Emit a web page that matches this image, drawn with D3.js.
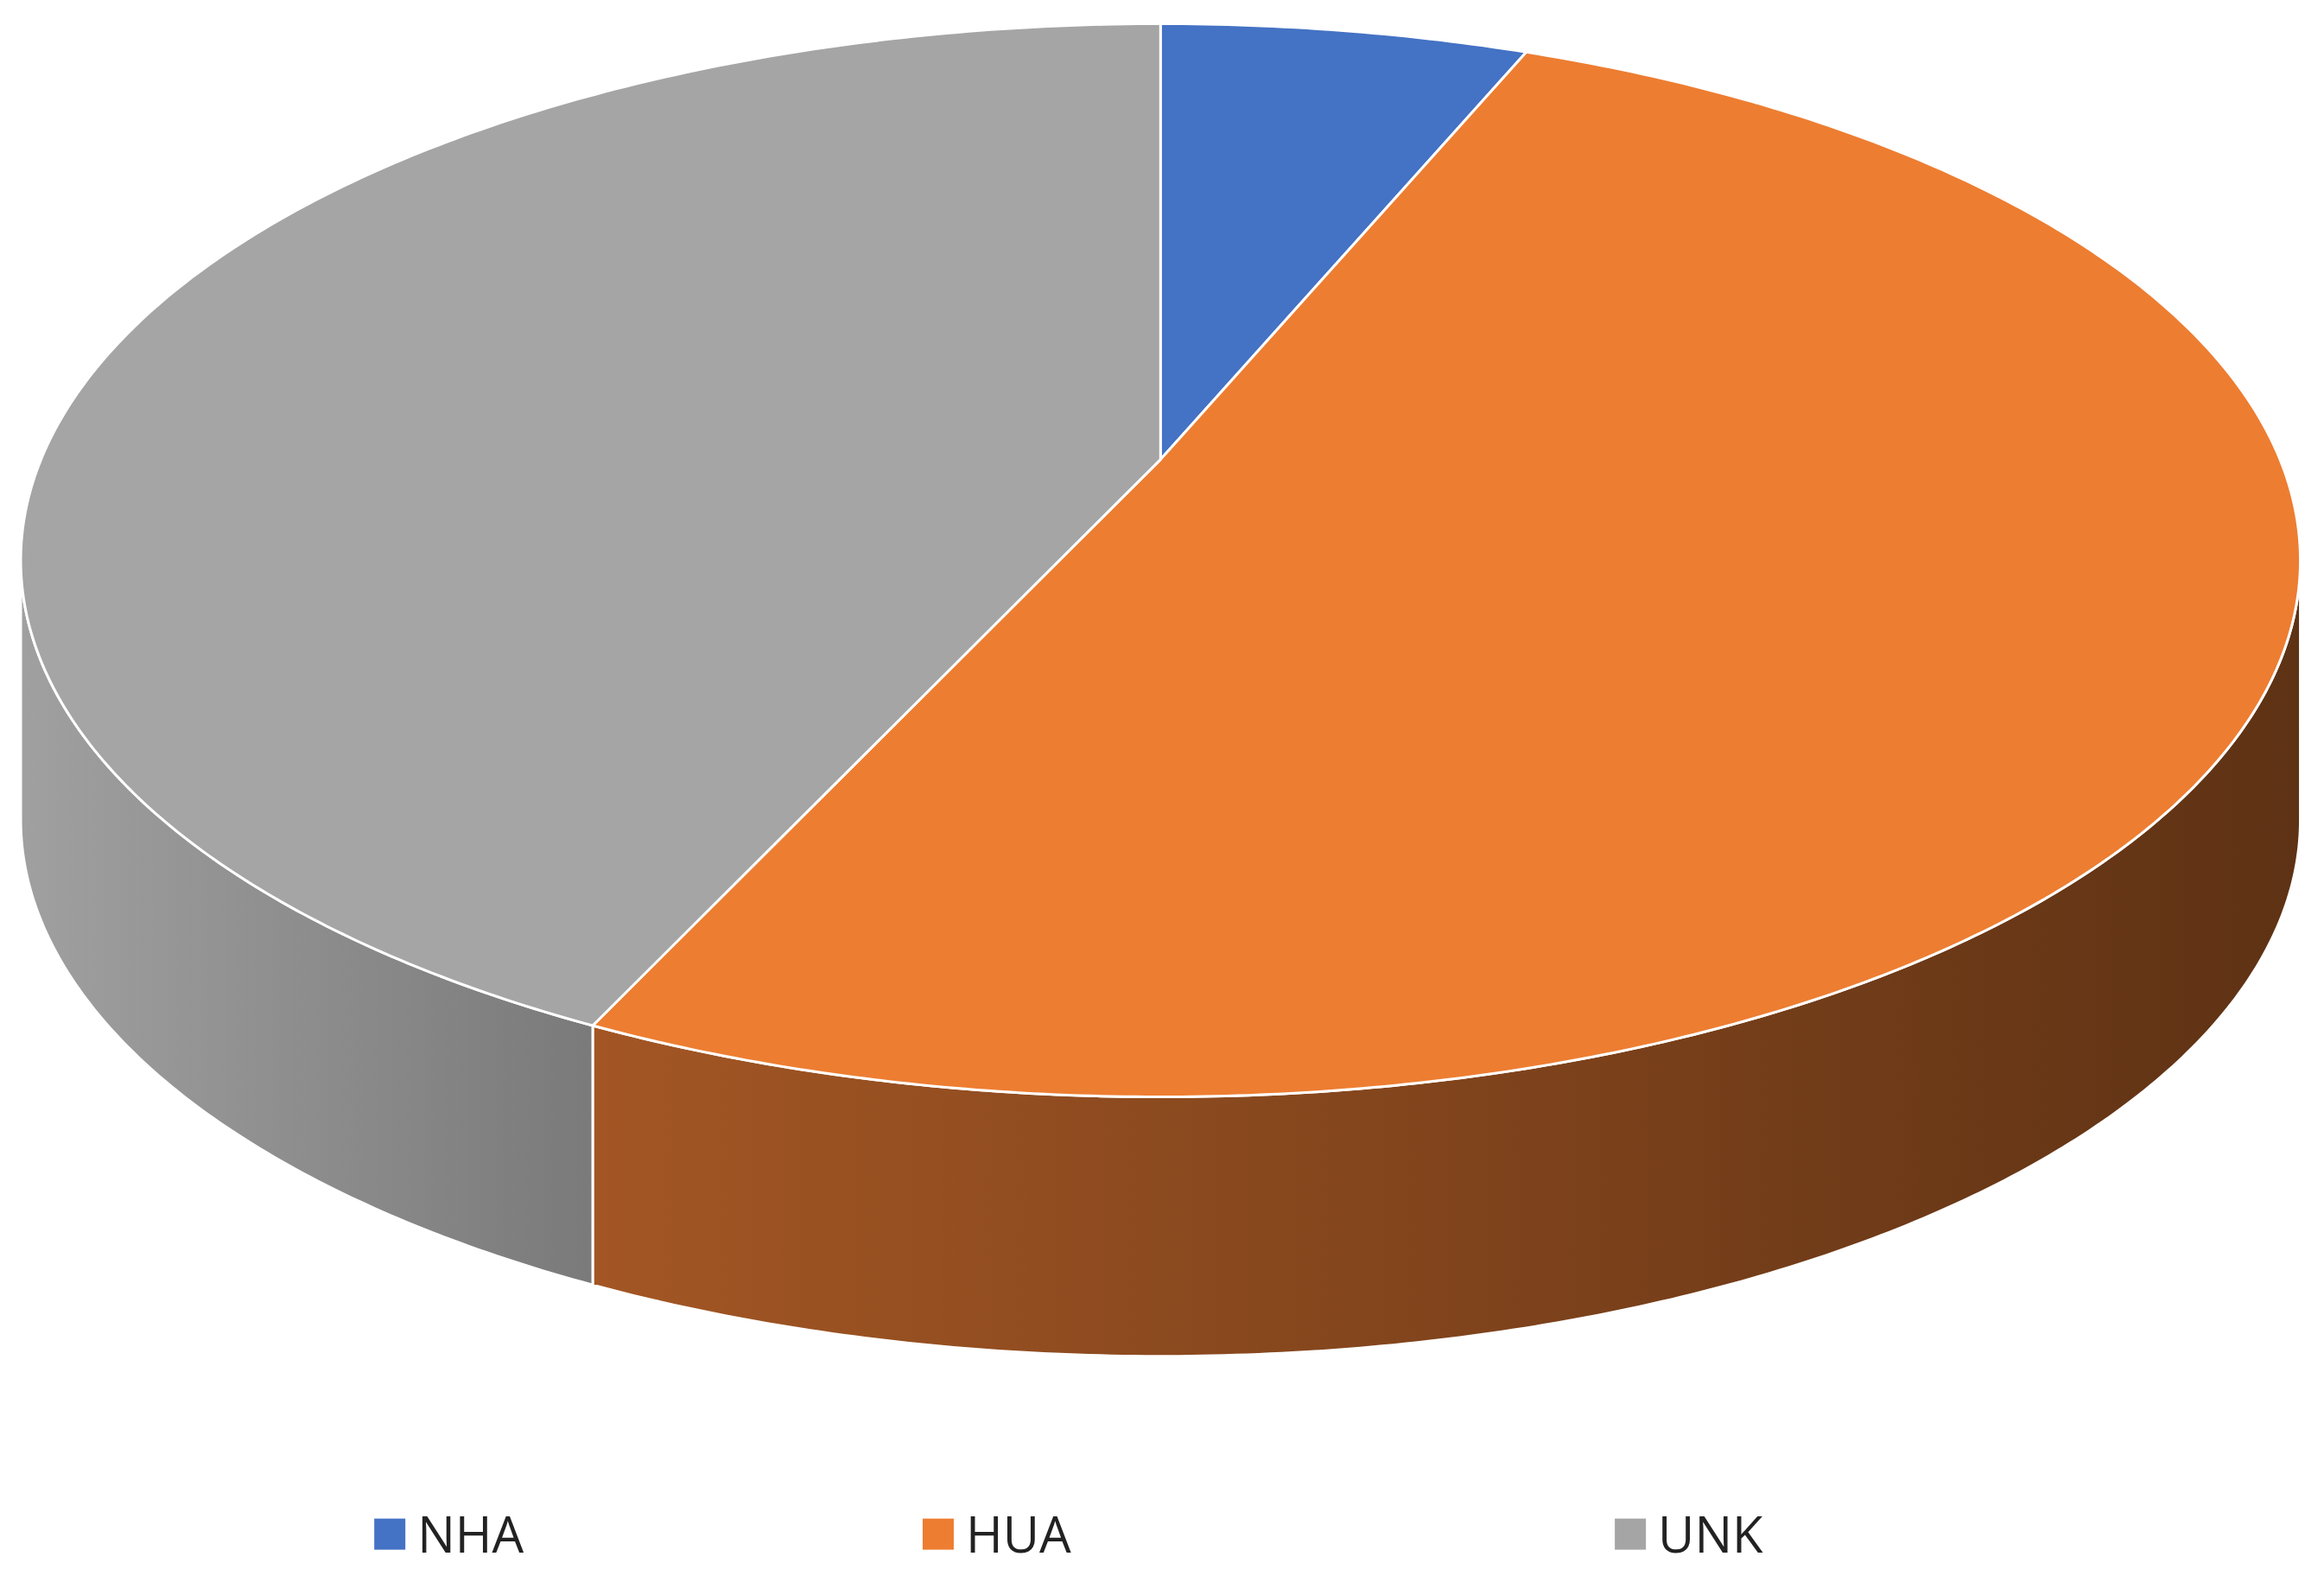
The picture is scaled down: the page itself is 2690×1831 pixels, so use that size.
<!DOCTYPE html>
<html><head><meta charset="utf-8">
<script src="https://cdn.jsdelivr.net/npm/d3@7"></script>
<style>body{margin:0;background:#fff}</style></head>
<body><svg id="c" width="2690" height="1831"></svg>
<script>
const categories = ["NHA","HUA","UNK"];
const values = [5.2, 53.1, 41.7];
const colors = ["#4472c4","#ed7d31","#a5a5a5"];
const sideDark = [["#2b4a80","#3a5fa0"],["#5e3214","#a35624"],["#7a7a7a","#a0a0a0"]];

const svg = d3.select("#c");
const S = 2690/1568;
const cx = 783*S, cy = 378*S, rx = 769*S, ry = 362*S, apexY = 310*S, depth = 175*S;
const pie = d3.pie().sort(null).value(d=>d)(values);
const pt = (a, dy=0) => [cx + rx*Math.sin(a), cy - ry*Math.cos(a) + dy];
const arcPts = (a0,a1,dy=0) => { const n=Math.max(2,Math.ceil((a1-a0)/0.01)); return d3.range(n+1).map(i=>pt(a0+(a1-a0)*i/n,dy)); };
const line = d3.line();
const defs = svg.append("defs");

// sides
pie.forEach((p,i)=>{
  const a0 = Math.max(p.startAngle, Math.PI/2), a1 = Math.min(p.endAngle, 3*Math.PI/2);
  if (a1 <= a0) return;
  const top = arcPts(a0,a1), bot = arcPts(a0,a1,depth).reverse();
  const g = defs.append("linearGradient").attr("id","g"+i).attr("gradientUnits","userSpaceOnUse")
    .attr("x1", pt(a0)[0]).attr("x2", pt(a1)[0]).attr("y1",0).attr("y2",0);
  g.append("stop").attr("offset",0).attr("stop-color", sideDark[i][0]);
  g.append("stop").attr("offset",1).attr("stop-color", sideDark[i][1]);
  svg.append("path").attr("d", line(top.concat(bot))+"Z").attr("fill","url(#g"+i+")")
    .attr("stroke","#fff").attr("stroke-width",3).attr("stroke-linejoin","round");
});
// tops
pie.forEach((p,i)=>{
  const pts = [[cx,apexY]].concat(arcPts(p.startAngle,p.endAngle));
  svg.append("path").attr("d", line(pts)+"Z").attr("fill",colors[i])
    .attr("stroke","#fff").attr("stroke-width",3).attr("stroke-linejoin","round");
});
// legend
const legX = [263,633,1100].map(v=>v*S);
categories.forEach((c,i)=>{
  svg.append("rect").attr("x",legX[i]-18).attr("y",1035*S-18).attr("width",36).attr("height",36).attr("fill",colors[i]);
  svg.append("text").attr("x",legX[i]+32).attr("y",1035*S+21).attr("font-family","Open Sans, sans-serif")
    .attr("font-size",58).attr("fill","#222").text(c);
});
</script></body></html>
